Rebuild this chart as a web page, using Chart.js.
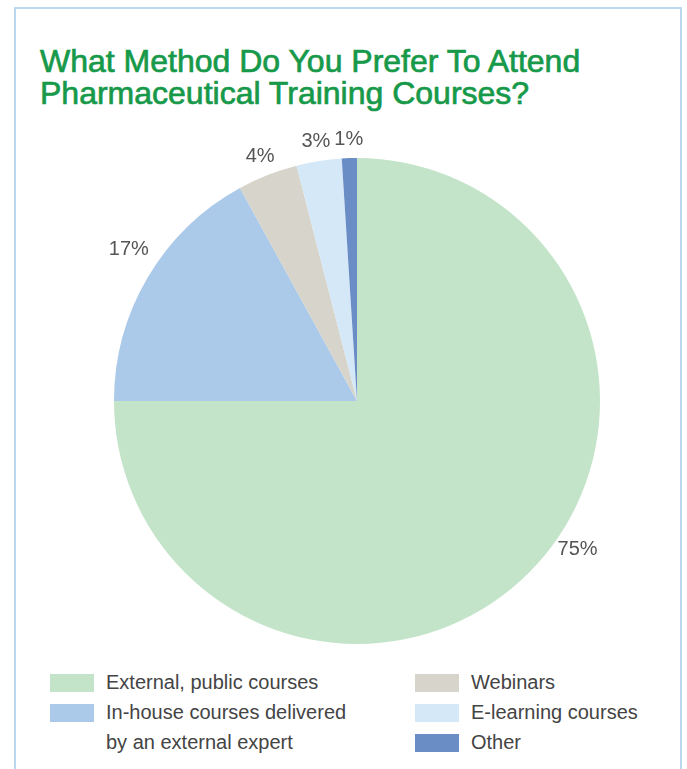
<!DOCTYPE html>
<html>
<head>
<meta charset="utf-8">
<script src="https://cdn.jsdelivr.net/npm/chart.js@4/dist/chart.umd.min.js"></script>
<style>
  html, body { margin: 0; padding: 0; background: #fff; }
  body { width: 687px; height: 769px; position: relative; overflow: hidden; font-family: "Liberation Sans", Arial, sans-serif; }
  .frame { position: absolute; left: 14px; top: 7px; width: 668px; height: 770px; border: 2px solid #bcd8ef; box-sizing: border-box; }
  .title { position: absolute; left: 40px; top: 45px; margin: 0; color: #17994a; font-size: 32px; font-weight: normal; line-height: 32px; -webkit-text-stroke: 0.7px #17994a; }
  #wrap { position: absolute; left: 0; top: 120px; width: 687px; height: 545px; }
  .legend { position: absolute; top: 671px; left: 50px; width: 620px; font-size: 20px; color: #444; }
  .legend .item { position: absolute; display: flex; }
  .legend .box { width: 44px; height: 18px; margin-top: 3px; margin-right: 12px; flex: none; }
  .legend .txt { line-height: 30px; margin-top: -4px; }
</style>
</head>
<body>
<div class="frame"></div>
<h1 class="title">What Method Do You Prefer To Attend<br>Pharmaceutical Training Courses?</h1>
<div id="wrap"><canvas id="pieChart" width="687" height="545"></canvas></div>
<div class="legend" id="legend"></div>

<script>
const categories = ['External, public courses', 'In-house courses delivered by an external expert', 'Webinars', 'E-learning courses', 'Other'];
const shares = [75, 17, 4, 3, 1];
const sliceColors = ['#c3e4c9', '#abc9e9', '#d6d4cb', '#d5e8f8', '#6b8dc6'];

// legend layout: [left, top] of each entry, and line breaks for long names
const legendSpots = [[0, 0], [0, 30], [365, 0], [365, 30], [365, 60]];
const legendText = ['External, public courses', 'In-house courses delivered<br>by an external expert', 'Webinars', 'E-learning courses', 'Other'];

// percentage label placement: angle shift (deg) and gap past the rim (px)
const labelShift = [-11, 3, 0, 0, 0];
const labelGap = [23, 31, 20, 20, 19];

const outsideLabels = {
  id: 'outsideLabels',
  afterDatasetsDraw(chart) {
    const ctx = chart.ctx;
    const meta = chart.getDatasetMeta(0);
    ctx.save();
    ctx.font = '20px "Liberation Sans", Arial, sans-serif';
    ctx.fillStyle = '#555';
    ctx.textAlign = 'center';
    ctx.textBaseline = 'middle';
    meta.data.forEach((arc, i) => {
      const p = arc.getProps(['x', 'y', 'startAngle', 'endAngle', 'outerRadius'], true);
      const a = (p.startAngle + p.endAngle) / 2 + labelShift[i] * Math.PI / 180;
      const r = p.outerRadius + labelGap[i];
      ctx.fillText(shares[i] + '%', p.x + Math.cos(a) * r, p.y + Math.sin(a) * r);
    });
    ctx.restore();
  }
};

const ctx = document.getElementById('pieChart').getContext('2d');
new Chart(ctx, {
  type: 'pie',
  data: {
    labels: categories,
    datasets: [{
      data: shares,
      backgroundColor: sliceColors,
      borderWidth: 0,
      hoverOffset: 0,
      radius: 243
    }]
  },
  options: {
    responsive: false,
    animation: false,
    layout: { padding: { left: 114, right: 87, top: 38, bottom: 21 } },
    plugins: {
      legend: { display: false },
      tooltip: { enabled: false }
    }
  },
  plugins: [outsideLabels]
});

const legend = document.getElementById('legend');
categories.forEach((name, i) => {
  const item = document.createElement('div');
  item.className = 'item';
  item.style.left = legendSpots[i][0] + 'px';
  item.style.top = legendSpots[i][1] + 'px';
  item.innerHTML = '<span class="box" style="background:' + sliceColors[i] + '"></span><span class="txt">' + legendText[i] + '</span>';
  legend.appendChild(item);
});
</script>
</body>
</html>
